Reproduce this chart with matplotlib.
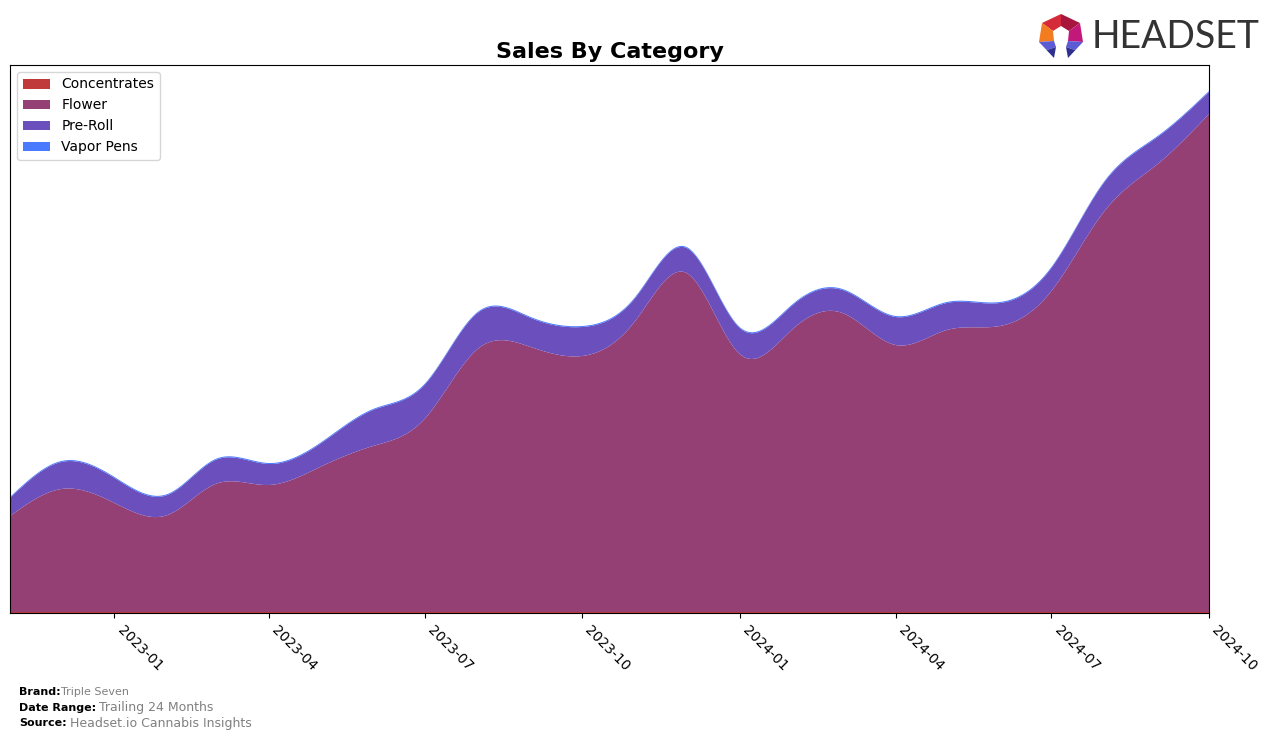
import numpy as np
import pandas as pd
import matplotlib
matplotlib.use("Agg")
import matplotlib.pyplot as plt
import matplotlib.dates as mdates
from matplotlib.patches import Polygon

months = pd.date_range("2022-11-01", "2024-10-01", freq="MS")
categories = ["Concentrates", "Flower", "Pre-Roll", "Vapor Pens"]
colors = ["#c0393b", "#954075", "#6a4fbd", "#4a7aff"]

concentrates = [1, 1, 1, 1, 1, 1, 1, 1, 1, 1, 1, 1, 1, 1, 1, 1, 1, 1, 1, 1, 1, 1, 1, 1]
flower = [96, 123, 109, 97, 128, 127, 145, 166, 193, 263, 265, 256,
          291, 339, 258, 283, 299, 267, 282, 286, 321, 401, 448, 498]
pre_roll = [18, 27, 25, 20, 24, 21, 23, 36, 34, 36, 29, 29,
            23, 25, 26, 24, 23, 28, 27, 23, 23, 29, 27, 22]
vapor_pens = [1, 1, 1, 1, 1, 1, 1, 1, 1, 1, 1, 1, 1, 1, 1, 1, 1, 1, 1, 1, 1, 1, 1, 1]


def spline(x, y, xs):
    # natural cubic spline, just for smooth drawing
    x = np.asarray(x, float)
    y = np.asarray(y, float)
    n = len(x)
    h = np.diff(x)
    A = np.zeros((n, n))
    b = np.zeros(n)
    A[0, 0] = 1
    A[-1, -1] = 1
    for i in range(1, n - 1):
        A[i, i - 1] = h[i - 1]
        A[i, i] = 2 * (h[i - 1] + h[i])
        A[i, i + 1] = h[i]
        b[i] = 3 * ((y[i + 1] - y[i]) / h[i] - (y[i] - y[i - 1]) / h[i - 1])
    c = np.linalg.solve(A, b)
    idx = np.clip(np.searchsorted(x, xs) - 1, 0, n - 2)
    dx = xs - x[idx]
    bb = (y[idx + 1] - y[idx]) / h[idx] - h[idx] * (2 * c[idx] + c[idx + 1]) / 3
    dd = (c[idx + 1] - c[idx]) / (3 * h[idx])
    return y[idx] + bb * dx + c[idx] * dx ** 2 + dd * dx ** 3


xn = mdates.date2num(months.to_pydatetime())
xs = np.linspace(xn[0], xn[-1], 600)
layers = [np.clip(spline(xn, s, xs), 0, None) for s in (concentrates, flower, pre_roll, vapor_pens)]

fig = plt.figure(figsize=(12.76, 7.39), dpi=100)
ax = fig.add_axes([10 / 1276, 1 - 613 / 739, 1199 / 1276, 548 / 739])
ax.stackplot(xs, *layers, labels=categories, colors=colors)
ax.set_xlim(xn[0], xn[-1])
ax.set_ylim(0, 548)
ax.set_yticks([])
ax.xaxis.set_major_locator(mdates.MonthLocator(bymonth=[1, 4, 7, 10]))
ax.xaxis.set_major_formatter(mdates.DateFormatter("%Y-%m"))
plt.setp(ax.get_xticklabels(), rotation=-45, ha="left", fontsize=10)
ax.set_title("Sales By Category", fontsize=16, fontweight="bold", pad=5)
ax.legend(loc="upper left", fontsize=10)

# footer
fig.text(19 / 1276, 1 - 692 / 739, "Brand:", fontsize=8, fontweight="bold", va="center")
fig.text(61 / 1276, 1 - 692 / 739, "Triple Seven", fontsize=8, color="grey", va="center")
fig.text(19 / 1276, 1 - 708 / 739, "Date Range:", fontsize=8, fontweight="bold", va="center")
fig.text(99 / 1276, 1 - 708 / 739, "Trailing 24 Months", fontsize=9, color="grey", va="center")
fig.text(19 / 1276, 1 - 723 / 739, "Source:", fontsize=8, fontweight="bold", va="center")
fig.text(70 / 1276, 1 - 723 / 739, "Headset.io Cannabis Insights", fontsize=9, color="grey", va="center")

# logo
lax = fig.add_axes([0, 0, 1, 1], zorder=5)
lax.set_xlim(0, 1276)
lax.set_ylim(739, 0)
lax.axis("off")
logo = [
    ([(1061, 14), (1042, 23), (1053, 31), (1061, 26)], "#d42a3a"),
    ([(1061, 14), (1061, 26), (1069, 31), (1080, 23)], "#a8163e"),
    ([(1042, 23), (1039, 42), (1054, 41), (1053, 31)], "#f47c20"),
    ([(1080, 23), (1069, 31), (1068, 41), (1083, 42)], "#c2187a"),
    ([(1039, 42), (1054, 41), (1056, 47), (1047, 50)], "#5b5bd6"),
    ([(1039, 42), (1047, 50), (1056, 47), (1054, 58)], "#2e2f8f"),
    ([(1083, 42), (1068, 41), (1066, 47), (1075, 50)], "#5b5bd6"),
    ([(1083, 42), (1075, 50), (1066, 47), (1068, 58)], "#2e2f8f"),
]
for pts, col in logo:
    lax.add_patch(Polygon(pts, closed=True, color=col, lw=0))
fig.text(1092 / 1276, 1 - 37 / 739, "HEADSET", fontsize=27, color="#333333", va="center",
         family=["Lato", "DejaVu Sans"])

fig.savefig("out.png", dpi=100)
